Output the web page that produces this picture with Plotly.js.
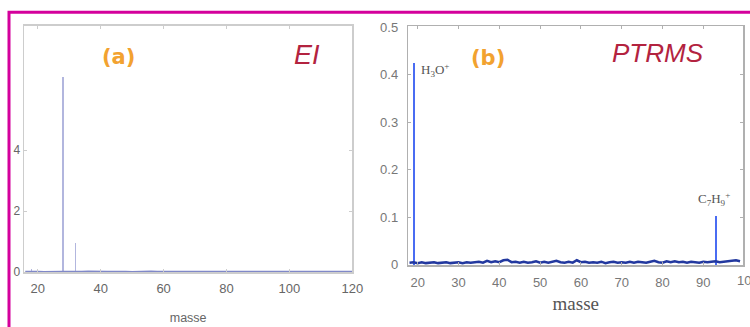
<!DOCTYPE html>
<html>
<head>
<meta charset="utf-8">
<script src="https://cdn.plot.ly/plotly-3.0.1.min.js"></script>
<style>html,body{margin:0;padding:0;background:#fff}#chart{width:750px;height:327px}</style>
</head>
<body>
<div id="chart"></div>
<script>
// Panel (a) EI spectrum
const peakMassA = [18, 28, 32, 44];
const peakIntA = [0.1, 6.41, 0.95, 0.05];
const baseMassA = [16,18,20,22,24,26,28,30,32,34,36,38,40,42,44,46,48,50,52,54,56,58,60,62,64,66,68,70,72,74,76,78,80,82,84,86,88,90,92,94,96,98,100,102,104,106,108,110,112,114,116,118,120];
const baseIntA = [0.02,0.03,0.02,0.01,0.02,0.03,0.02,0.02,0.01,0.02,0.03,0.02,0.01,0.02,0.02,0.03,0.02,0.01,0.02,0.02,0.03,0.02,0.02,0.01,0.02,0.03,0.02,0.02,0.03,0.02,0.01,0.02,0.02,0.03,0.02,0.02,0.01,0.02,0.03,0.02,0.02,0.01,0.02,0.02,0.03,0.02,0.01,0.02,0.02,0.03,0.02,0.02,0.02];
const yTicksA = [0, 2, 4];

// Panel (b) PTRMS spectrum
const peakMassB = [19, 93];
const peakIntB = [0.424, 0.103];
const baseMassB = [18,19,20,21,22,23,24,25,26,27,28,29,30,31,32,33,34,35,36,37,38,39,40,41,42,43,44,45,46,47,48,49,50,51,52,53,54,55,56,57,58,59,60,61,62,63,64,65,66,67,68,69,70,71,72,73,74,75,76,77,78,79,80,81,82,83,84,85,86,87,88,89,90,91,92,93,94,95,96,97,98,99];
const baseIntB = [0.004,0.005,0.003,0.005,0.003,0.004,0.005,0.003,0.004,0.005,0.003,0.004,0.005,0.003,0.005,0.004,0.005,0.006,0.004,0.008,0.005,0.007,0.005,0.009,0.010,0.005,0.006,0.004,0.006,0.004,0.005,0.007,0.004,0.006,0.004,0.006,0.008,0.005,0.004,0.006,0.004,0.009,0.005,0.006,0.004,0.005,0.004,0.006,0.003,0.005,0.006,0.004,0.005,0.004,0.006,0.004,0.006,0.005,0.004,0.006,0.008,0.005,0.004,0.007,0.005,0.007,0.005,0.006,0.004,0.006,0.005,0.004,0.006,0.005,0.006,0.007,0.005,0.006,0.007,0.009,0.009,0.007];

const labelA = '(a)', methodA = 'EI';
const labelB = '(b)', methodB = 'PTRMS';
const ionLabels = ['H<sub>3</sub>O<sup>+</sup>', 'C<sub>7</sub>H<sub>9</sub><sup>+</sup>'];
const xTitle = 'masse';

const traces = [
  {type:'bar', x:peakMassA, y:peakIntA, width:0.45, marker:{color:'#b2b6de', line:{width:0}}, xaxis:'x', yaxis:'y', hoverinfo:'skip'},
  {type:'scatter', mode:'lines', x:baseMassA, y:baseIntA, line:{color:'#8088c8', width:2}, xaxis:'x', yaxis:'y', hoverinfo:'skip'},
  {type:'bar', x:peakMassB, y:peakIntB, width:0.5, marker:{color:'#4a6cf2', line:{width:0}}, xaxis:'x2', yaxis:'y2', hoverinfo:'skip'},
  {type:'scatter', mode:'lines', x:baseMassB, y:baseIntB, line:{color:'#22389f', width:2.5}, xaxis:'x2', yaxis:'y2', hoverinfo:'skip'}
];

const axisBase = {showgrid:false, zeroline:false, showline:true, mirror:'ticks', ticks:'inside', ticklen:3, fixedrange:true};

const layout = {
  width:750, height:327,
  margin:{l:0, r:0, t:0, b:0},
  paper_bgcolor:'#ffffff', plot_bgcolor:'#ffffff',
  showlegend:false, bargap:0,
  font:{family:'Liberation Sans, Arial, sans-serif', color:'#666'},
  xaxis:Object.assign({}, axisBase, {
    domain:[0.032, 0.4697], range:[15.6, 120], dtick:20, anchor:'y',
    linecolor:'#cdcdcd', linewidth:1.5, tickcolor:'#cdcdcd',
    tickfont:{size:13, color:'#666'}, ticklabelstandoff:4,
    title:{text:xTitle, font:{size:12.5, color:'#666'}, standoff:18}
  }),
  yaxis:Object.assign({}, axisBase, {
    domain:[0.1673, 0.9205], range:[0, 8.07], tickvals:yTicksA, anchor:'x',
    linecolor:'#cdcdcd', linewidth:1.5, tickcolor:'#cdcdcd',
    tickfont:{size:12, color:'#666'}, ticklabelstandoff:0
  }),
  xaxis2:Object.assign({}, axisBase, {
    domain:[0.5444, 0.9911], range:[17.7, 99.8], dtick:10, anchor:'y2',
    linecolor:'#b0b0b0', linewidth:1.5, tickcolor:'#b0b0b0',
    tickfont:{size:13, color:'#777'}, ticklabelstandoff:4,
    title:{text:xTitle, font:{family:'Liberation Serif, Times New Roman, serif', size:19, color:'#555'}, standoff:8}
  }),
  yaxis2:Object.assign({}, axisBase, {
    domain:[0.1881, 0.9199], range:[-0.002, 0.502], dtick:0.1, anchor:'x2',
    linecolor:'#b0b0b0', linewidth:1.5, tickcolor:'#b0b0b0',
    tickfont:{size:13, color:'#777'}, ticklabelstandoff:6
  }),
  annotations:[
    {xref:'paper', yref:'paper', x:0.1583, y:0.825, text:'<b>'+labelA+'</b>', showarrow:false, xanchor:'center', yanchor:'middle', font:{family:'DejaVu Sans, Verdana, sans-serif', size:21, color:'#f2a230'}},
    {xref:'paper', yref:'paper', x:0.6513, y:0.824, text:'<b>'+labelB+'</b>', showarrow:false, xanchor:'center', yanchor:'middle', font:{family:'DejaVu Sans, Verdana, sans-serif', size:21, color:'#f2a230'}},
    {xref:'paper', yref:'paper', x:0.4089, y:0.832, text:'<i>'+methodA+'</i>', showarrow:false, xanchor:'center', yanchor:'middle', font:{family:'Liberation Sans, Arial, sans-serif', size:27, color:'#b3233f'}},
    {xref:'paper', yref:'paper', x:0.877, y:0.837, text:'<i>'+methodB+'</i>', showarrow:false, xanchor:'center', yanchor:'middle', font:{family:'Liberation Sans, Arial, sans-serif', size:26, color:'#b3233f'}},
    {xref:'x2', yref:'y2', x:20.3, y:0.41, text:ionLabels[0], showarrow:false, xanchor:'left', yanchor:'middle', font:{family:'Liberation Serif, Times New Roman, serif', size:13, color:'#555'}},
    {xref:'x2', yref:'y2', x:88.2, y:0.137, text:ionLabels[1], showarrow:false, xanchor:'left', yanchor:'middle', font:{family:'Liberation Serif, Times New Roman, serif', size:13, color:'#555'}},
    {xref:'paper', yref:'paper', x:0.9973, y:0.1416, text:'100', showarrow:false, xanchor:'center', yanchor:'middle', font:{family:'Liberation Sans, Arial, sans-serif', size:13, color:'#777'}}
  ],
  shapes:[
    {type:'path', xref:'paper', yref:'paper', path:'M 0.012,-0.01 L 0.012,0.9624 L 1.01,0.9624', line:{color:'#d4009c', width:3}}
  ]
};

Plotly.newPlot('chart', traces, layout, {staticPlot:true, displayModeBar:false});
</script>
</body>
</html>
